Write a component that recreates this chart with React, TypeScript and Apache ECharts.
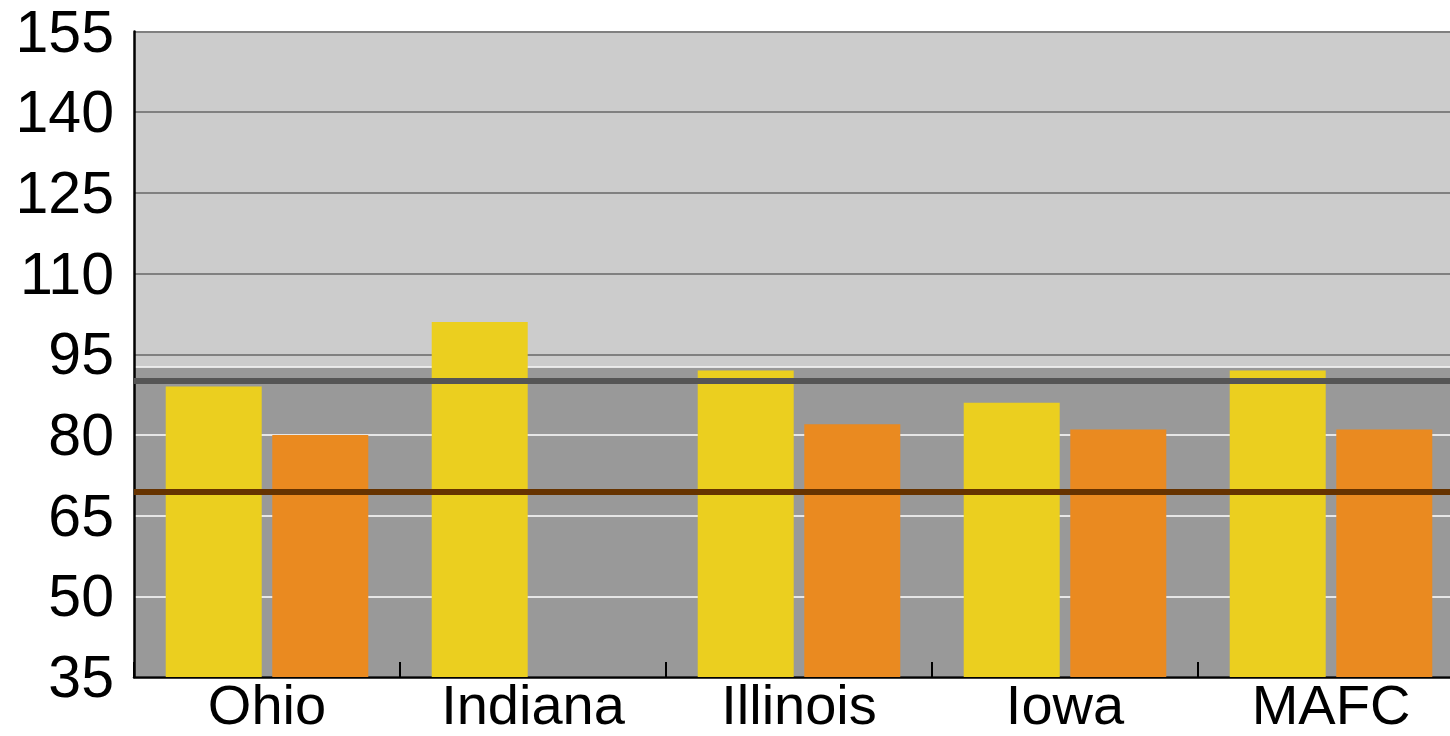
import React, { useEffect, useRef } from "react";
import * as echarts from "echarts";

const categories = ["Ohio", "Indiana", "Illinois", "Iowa", "MAFC"];
const seriesYellow = [89, 101, 92, 86, 92];
const seriesOrange: (number | null)[] = [80, null, 82, 81, 81];

const AXIS_MIN = 35;
const AXIS_MAX = 155;
const AXIS_STEP = 15;

const BAND_TOP = 92.7; // top of the dark band
const REF_GRAY = 90;
const REF_BROWN = 69.5;

const FONT = "'Liberation Sans', Arial, sans-serif";

export default function App() {
  const ref = useRef<HTMLDivElement>(null);

  useEffect(() => {
    document.body.style.margin = "0";
    if (!ref.current) return;
    const chart = echarts.init(ref.current, undefined, { renderer: "svg" });

    const off = (v: number | null) => (v == null ? "-" : v - AXIS_MIN);
    const tickValues: number[] = [];
    for (let v = AXIS_MIN; v <= AXIS_MAX; v += AXIS_STEP) tickValues.push(v);
    const splitColors = tickValues.map((v) => (v < BAND_TOP ? "#e6e6e6" : "#808080"));

    chart.setOption({
      animation: false,
      grid: {
        left: 134,
        top: 31.5,
        height: 645.5,
        width: 1330,
        outerBoundsMode: "none",
        containLabel: false,
        show: true,
        backgroundColor: "#cccccc",
        borderWidth: 0,
      },
      xAxis: {
        type: "category",
        data: categories,
        z: 2,
        axisLine: { show: true, lineStyle: { color: "#000", width: 2.5 } },
        axisTick: { show: true, inside: true, length: 15, lineStyle: { color: "#000", width: 2 } },
        axisLabel: { color: "#000", fontSize: 56, lineHeight: 52, fontFamily: FONT, margin: 1 },
        splitLine: { show: false },
      },
      yAxis: {
        type: "value",
        min: 0,
        max: AXIS_MAX - AXIS_MIN,
        interval: AXIS_STEP,
        z: 2,
        axisLine: { show: true, lineStyle: { color: "#000", width: 2.5 } },
        axisTick: { show: false },
        axisLabel: {
          color: "#000",
          fontSize: 59,
          fontFamily: FONT,
          margin: 20,
          formatter: (v: number) => String(v + AXIS_MIN),
        },
        splitLine: { show: true, lineStyle: { color: splitColors, width: 2 } },
      },
      series: [
        {
          type: "bar",
          name: "A",
          data: seriesYellow.map(off),
          barWidth: 96,
          barGap: "11%",
          z: 3,
          itemStyle: { color: "#ebcf1f" },
          markArea: {
            silent: true,
            z: 1,
            itemStyle: { color: "#999999" },
            data: [[{ yAxis: 0 }, { yAxis: BAND_TOP - AXIS_MIN }]],
          },
          markLine: {
            silent: true,
            symbol: "none",
            z: 2,
            label: { show: false },
            lineStyle: { color: "#ffffff", width: 1.5, type: "solid" },
            data: [{ yAxis: BAND_TOP - AXIS_MIN }],
          },
        },
        {
          type: "bar",
          name: "B",
          data: seriesOrange.map(off),
          barWidth: 96,
          barGap: "11%",
          z: 3,
          itemStyle: { color: "#ea8a20" },
          markLine: {
            silent: true,
            symbol: "none",
            z: 5,
            label: { show: false },
            data: [
              { yAxis: REF_GRAY - AXIS_MIN, lineStyle: { color: "#555555", width: 6, type: "solid" } },
              { yAxis: REF_BROWN - AXIS_MIN, lineStyle: { color: "#663300", width: 6, type: "solid" } },
            ],
          },
        },
      ],
    });

    return () => chart.dispose();
  }, []);

  return <div ref={ref} style={{ width: 1450, height: 736 }} />;
}
